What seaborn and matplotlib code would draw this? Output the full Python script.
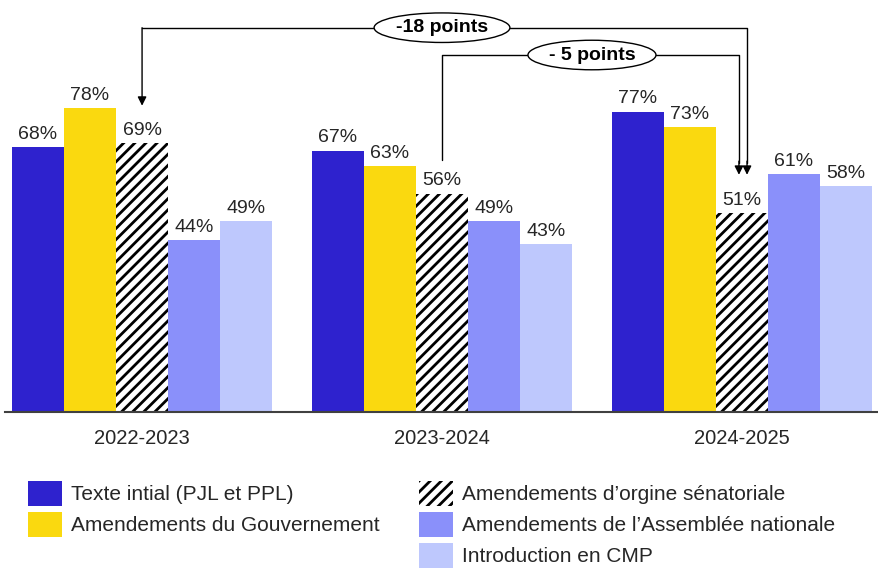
import numpy as np
import pandas as pd
import matplotlib
matplotlib.use('Agg')
import matplotlib.pyplot as plt
import seaborn as sns
from matplotlib.patches import Patch

# Data
periods = ['2022-2023', '2023-2024', '2024-2025']
series = ['Texte intial (PJL et PPL)',
          'Amendements du Gouvernement',
          'Amendements d\u2019orgine sénatoriale',
          'Amendements de l\u2019Assemblée nationale',
          'Introduction en CMP']
texte_initial = [68, 67, 77]
amdt_gouvernement = [78, 63, 73]
amdt_senat = [69, 56, 51]
amdt_assemblee = [44, 49, 61]
intro_cmp = [49, 43, 58]

bar_colors = ['#2E22CE', '#FAD90F', '#FFFFFF', '#8A90FA', '#BEC8FD']
text_color = '#262626'

values = [texte_initial, amdt_gouvernement, amdt_senat, amdt_assemblee, intro_cmp]
df = pd.DataFrame({
    'periode': periods * len(series),
    'serie': np.repeat(series, len(periods)),
    'valeur': np.concatenate(values),
})

sns.set_theme(style='white')
plt.rcParams['font.family'] = ['Liberation Sans', 'DejaVu Sans']
plt.rcParams['hatch.linewidth'] = 2.0
plt.rcParams['text.color'] = text_color

fig = plt.figure(figsize=(8.79, 5.72), dpi=100)
ax = fig.add_axes([5 / 879, 1 - 412 / 572, 874 / 879, 412 / 572])

sns.barplot(data=df, x='periode', y='valeur', hue='serie', hue_order=series,
            palette=bar_colors, width=0.867, saturation=1, linewidth=0,
            legend=False, ax=ax)

# hatched series (senate)
for bar in ax.containers[2]:
    bar.set_hatch('///')
    bar.set_edgecolor('black')
    bar.set_linewidth(0)

for cont, vals in zip(ax.containers, values):
    ax.bar_label(cont, labels=[f'{v}%' for v in vals], padding=3,
                 fontsize=14, color=text_color)

ax.set_xlim(-0.457, 2.457)
ax.set_ylim(0, 105.6)
ax.set_xlabel('')
ax.set_ylabel('')
ax.set_yticks([])
ax.tick_params(axis='x', length=0, pad=12, labelsize=14.5, labelcolor=text_color)
for side in ['left', 'right', 'top']:
    ax.spines[side].set_visible(False)
ax.spines['bottom'].set_color('#404040')
ax.spines['bottom'].set_linewidth(1.5)

# bar centres of the senate series
sen_x = [b.get_x() + b.get_width() / 2 for b in ax.containers[2]]
arrow_kw = dict(arrowstyle='-|>', color='black', lw=1, mutation_scale=13,
                shrinkA=0, shrinkB=0)

# -18 points : 2022-2023 -> 2024-2025
y_top = 98.5
tip_last = amdt_senat[2] + 9.8
x_r1 = sen_x[2] + 0.017
ax.annotate('', xy=(sen_x[0], amdt_senat[0] + 9.5), xytext=(sen_x[0], y_top), arrowprops=arrow_kw)
ax.plot([sen_x[0], x_r1, x_r1], [y_top, y_top, tip_last + 3], color='black', lw=1)
ax.annotate('', xy=(x_r1, tip_last), xytext=(x_r1, tip_last + 3.5), arrowprops=arrow_kw)
ax.text((sen_x[0] + sen_x[2]) / 2, y_top, '-18 points', ha='center', va='center',
        fontsize=14, fontweight='bold', color='black',
        bbox=dict(boxstyle='ellipse,pad=0.1', fc='white', ec='black', lw=1))

# -5 points : 2023-2024 -> 2024-2025
y_mid = 91.5
x_r2 = sen_x[2] - 0.01
ax.plot([sen_x[1], sen_x[1], x_r2, x_r2], [amdt_senat[1] + 8.6, y_mid, y_mid, tip_last + 3],
        color='black', lw=1)
ax.annotate('', xy=(x_r2, tip_last), xytext=(x_r2, tip_last + 3.5), arrowprops=arrow_kw)
ax.text((sen_x[1] + sen_x[2]) / 2, y_mid, '- 5 points', ha='center', va='center',
        fontsize=14, fontweight='bold', color='black',
        bbox=dict(boxstyle='ellipse,pad=0.1', fc='white', ec='black', lw=1))

# Legend: two columns, first column has only two entries
handles = [Patch(facecolor=c, edgecolor='none', linewidth=0) for c in bar_colors]
handles[2] = Patch(facecolor='white', edgecolor='black', hatch='///', linewidth=0)
blank = Patch(visible=False)
leg_handles = [handles[0], handles[1], blank, handles[2], handles[3], handles[4]]
leg_labels = [series[0], series[1], '', series[2], series[3], series[4]]
fig.legend(leg_handles, leg_labels, ncol=2, loc='upper left',
           bbox_to_anchor=(28 / 879, 1 - 481 / 572), frameon=False,
           fontsize=15, handlelength=1.65, handleheight=1.45,
           handletextpad=0.4, columnspacing=1.9, labelspacing=0.3,
           borderpad=0, borderaxespad=0)

fig.savefig('out.png', dpi=100)
